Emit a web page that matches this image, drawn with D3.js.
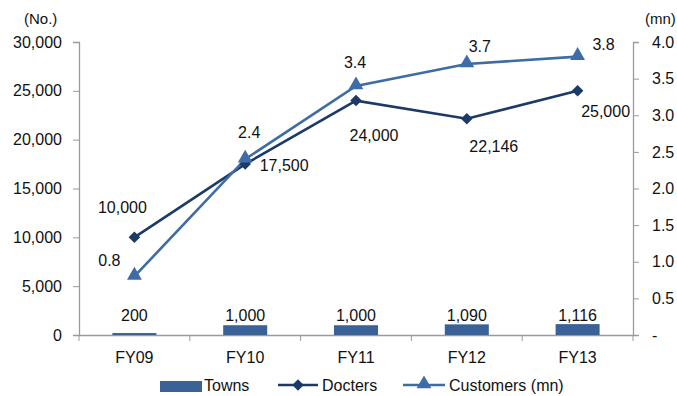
<!DOCTYPE html>
<html>
<head>
<meta charset="utf-8">
<script src="https://cdn.jsdelivr.net/npm/d3@7"></script>
<style>
  body { margin: 0; background: #fff; }
  text { font-family: "Liberation Sans", Arial, sans-serif; fill: #111; }
</style>
</head>
<body>
<script>
// chart data
var years = ["FY09", "FY10", "FY11", "FY12", "FY13"];
var towns = [200, 1000, 1000, 1090, 1116];
var doctors = [10000, 17500, 24000, 22146, 25000];
var customers = [0.8, 2.4, 3.4, 3.7, 3.8];
var leftTicks = [0, 5000, 10000, 15000, 20000, 25000, 30000];
var rightTicks = [0, 0.5, 1, 1.5, 2, 2.5, 3, 3.5, 4];

var width = 677,
    height = 396;
var plotLeft = 79, plotRight = 633, plotTop = 42, plotBottom = 335;
var fs = "16px";

var barColor = "#3a6296",
    docColor = "#1b3a66",
    custColor = "#3e6ca6",
    axisColor = "#9a9a9a";

var svg = d3.select("body").append("svg")
    .attr("width", width)
    .attr("height", height);

var x = d3.scaleBand().domain(years).range([plotLeft, plotRight]);
var y = d3.scaleLinear().domain([0, 30000]).range([plotBottom, plotTop]);
var y2 = d3.scaleLinear().domain([0, 4]).range([plotBottom, plotTop]);

// axes
var fmtL = d3.format(",");
var yAxis = svg.append("g")
    .attr("transform", "translate(" + plotLeft + ",0)")
    .call(d3.axisLeft(y).tickValues(leftTicks).tickFormat(fmtL).tickSize(6).tickPadding(11));

var yAxis2 = svg.append("g")
    .attr("transform", "translate(" + plotRight + ",0)")
    .call(d3.axisRight(y2).tickValues(rightTicks)
        .tickFormat(function(d) { return d == 0 ? "-" : d3.format(".1f")(d); })
        .tickSize(6).tickPadding(13));

var xAxis = svg.append("g")
    .attr("transform", "translate(0," + plotBottom + ")")
    .call(d3.axisBottom(x).tickSize(0).tickPadding(17));

// boundary ticks on the x axis
svg.append("g").selectAll("line")
    .data(d3.range(years.length + 1))
    .enter().append("line")
    .attr("x1", function(i) { return plotLeft + i * x.step(); })
    .attr("x2", function(i) { return plotLeft + i * x.step(); })
    .attr("y1", plotBottom)
    .attr("y2", plotBottom + 6)
    .attr("stroke", axisColor);

[yAxis, yAxis2, xAxis].forEach(function(a) {
    a.selectAll("path").attr("stroke", axisColor).attr("stroke-width", 1.3);
    a.selectAll("line").attr("stroke", axisColor);
    a.selectAll("text").style("font-size", fs).attr("fill", "#111")
        .style("font-family", "'Liberation Sans', Arial, sans-serif");
});

svg.append("text").attr("x", 24).attr("y", 24)
    .style("font-size", "15px").text("(No.)");
svg.append("text").attr("x", 645).attr("y", 24)
    .style("font-size", "15px").text("(mn)");

// bars
var barW = 44;
svg.append("g").selectAll("rect")
    .data(towns)
    .enter().append("rect")
    .attr("x", function(d, i) { return x(years[i]) + x.bandwidth() / 2 - barW / 2; })
    .attr("y", function(d) { return y(d); })
    .attr("width", barW)
    .attr("height", function(d) { return plotBottom - y(d); })
    .attr("fill", barColor);

svg.append("g").selectAll("text")
    .data(towns)
    .enter().append("text")
    .attr("x", function(d, i) { return x(years[i]) + x.bandwidth() / 2; })
    .attr("y", 321)
    .attr("text-anchor", "middle")
    .style("font-size", fs)
    .text(function(d) { return fmtL(d); });

var cx = function(i) { return x(years[i]) + x.bandwidth() / 2; };

// doctors line
var docLine = d3.line()
    .x(function(d, i) { return cx(i); })
    .y(function(d) { return y(d); });

svg.append("path")
    .datum(doctors)
    .attr("d", docLine)
    .attr("fill", "none")
    .attr("stroke", docColor)
    .attr("stroke-width", 2.6);

// customers line
var custLine = d3.line()
    .x(function(d, i) { return cx(i); })
    .y(function(d) { return y2(d); });

svg.append("path")
    .datum(customers)
    .attr("d", custLine)
    .attr("fill", "none")
    .attr("stroke", custColor)
    .attr("stroke-width", 2.6);

var diamond = d3.symbol().type(d3.symbolDiamond2).size(85);
var triangle = d3.symbol().type(d3.symbolTriangle).size(95);

svg.append("g").selectAll("path")
    .data(doctors)
    .enter().append("path")
    .attr("d", diamond)
    .attr("transform", function(d, i) { return "translate(" + cx(i) + "," + y(d) + ")"; })
    .attr("fill", docColor);

svg.append("g").selectAll("path")
    .data(customers)
    .enter().append("path")
    .attr("d", triangle)
    .attr("transform", function(d, i) { return "translate(" + cx(i) + "," + (y2(d) - 1) + ")"; })
    .attr("fill", custColor);

// data labels (offsets from the point, to the text baseline)
var docOffsets = [[-12, -24], [39, 7], [18, 40], [27, 33], [28, 26]];
var custOffsets = [[-25, -10], [4, -21], [-1, -18], [13, -12], [26, -7]];

svg.append("g").selectAll("text")
    .data(doctors)
    .enter().append("text")
    .attr("x", function(d, i) { return cx(i) + docOffsets[i][0]; })
    .attr("y", function(d, i) { return y(d) + docOffsets[i][1]; })
    .attr("text-anchor", "middle")
    .style("font-size", fs)
    .text(function(d) { return fmtL(d); });

svg.append("g").selectAll("text")
    .data(customers)
    .enter().append("text")
    .attr("x", function(d, i) { return cx(i) + custOffsets[i][0]; })
    .attr("y", function(d, i) { return y2(d) + custOffsets[i][1]; })
    .attr("text-anchor", "middle")
    .style("font-size", fs)
    .text(function(d) { return d3.format(".1f")(d); });

// legend
var lg = svg.append("g").attr("transform", "translate(0,385)");
lg.append("rect").attr("x", 160).attr("y", -4).attr("width", 42).attr("height", 11).attr("fill", barColor);
lg.append("text").attr("x", 204).attr("y", 6).style("font-size", fs).text("Towns");

lg.append("line").attr("x1", 278).attr("x2", 318).attr("y1", 0).attr("y2", 0)
    .attr("stroke", docColor).attr("stroke-width", 2.6);
lg.append("path").attr("d", diamond).attr("transform", "translate(298,0)").attr("fill", docColor);
lg.append("text").attr("x", 322).attr("y", 6).style("font-size", fs).text("Docters");

lg.append("line").attr("x1", 403).attr("x2", 445).attr("y1", 0).attr("y2", 0)
    .attr("stroke", custColor).attr("stroke-width", 2.6);
lg.append("path").attr("d", triangle).attr("transform", "translate(424,-1)").attr("fill", custColor);
lg.append("text").attr("x", 449).attr("y", 6).style("font-size", fs).text("Customers (mn)");
</script>
</body>
</html>
